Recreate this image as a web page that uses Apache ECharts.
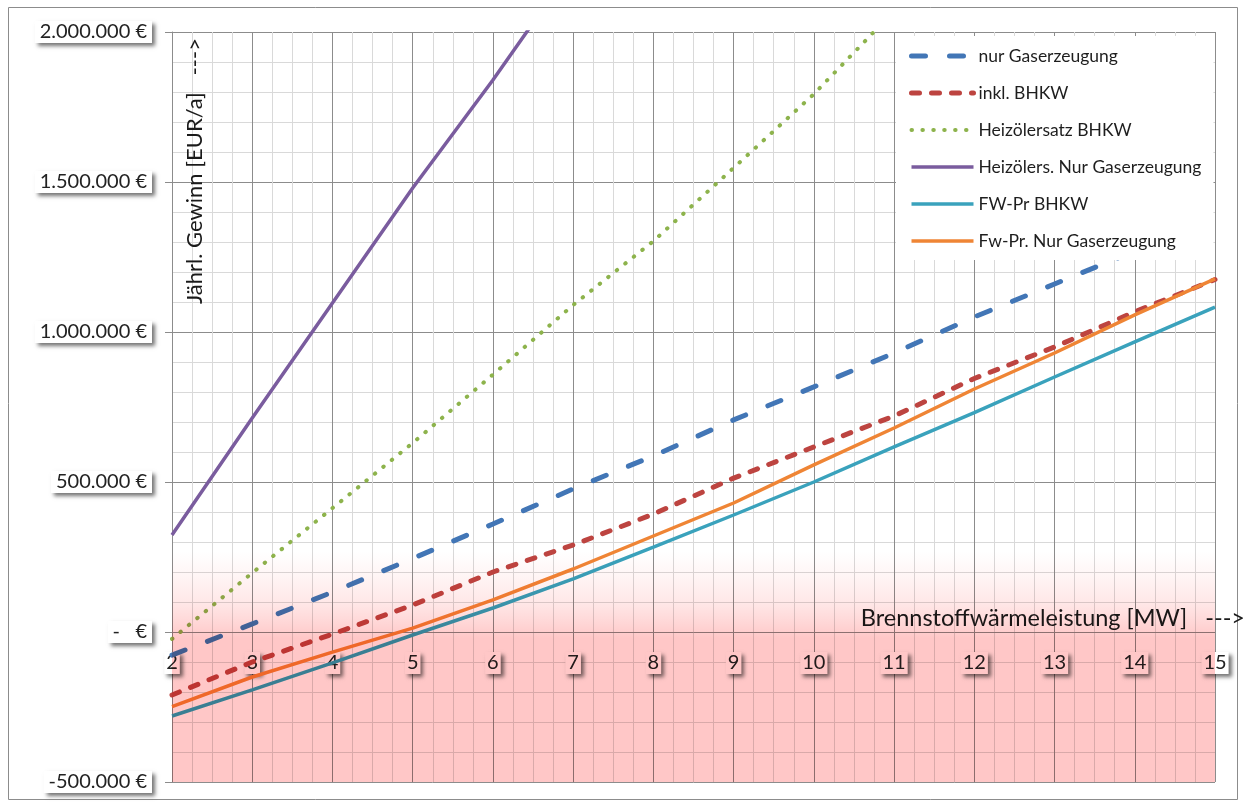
<!DOCTYPE html>
<html>
<head>
<meta charset="utf-8">
<script src="https://cdn.jsdelivr.net/npm/echarts@6/dist/echarts.min.js"></script>
<style>
  html, body { margin: 0; padding: 0; background: #ffffff; }
  #chart { width: 1248px; height: 804px; }
</style>
</head>
<body>
<div id="chart"></div>
<script>
// Brennstoffwärmeleistung [MW]
const leistungMW = [2, 3, 4, 5, 6, 7, 8, 9, 10, 11, 12, 13, 14, 15];

// Jährlicher Gewinn [EUR/a] je Variante
const nurGaserzeugung      = [-77000, 27000, 133000, 245000, 360000, 477000, 587000, 707000, 817000, 930000, 1050000, 1160000, 1270000, 1380000];
const inklBHKW             = [-210000, -100000, -7000, 90000, 200000, 290000, 393000, 513000, 617000, 720000, 845000, 950000, 1067000, 1175000];
const heizoelersatzBHKW    = [-23000, 197000, 413000, 630000, 858000, 1090000, 1303000, 1547000, 1793000, 2070000];
const heizoelersNurGas     = [323000, 713000, 1097000, 1480000, 1840000, 2220000];
const fwPrBHKW             = [-280000, -193000, -103000, -10000, 80000, 177000, 283000, 390000, 500000, 617000, 731000, 850000, 967000, 1083000];
const fwPrNurGas           = [-249000, -150000, -67000, 13000, 107000, 210000, 320000, 430000, 557000, 680000, 810000, 930000, 1057000, 1177000];

const seriesNames = [
  'nur Gaserzeugung',
  'inkl. BHKW',
  'Heizölersatz BHKW',
  'Heizölers. Nur Gaserzeugung',
  'FW-Pr BHKW',
  'Fw-Pr. Nur Gaserzeugung'
];

// Verlustbereich (rot hinterlegt): x-Spanne und Gewinn-Spanne
const verlustMW  = [2, 15];
const verlustEUR = [-500000, 300000];

// Wertebereich der Achsen
const xRange = [2, 15];
const yRange = [-500000, 2000000];

const FONT = 'Lato, "Open Sans", sans-serif';

function pairs(values) {
  return values.map((v, i) => [leistungMW[i], v]);
}

function euro(v) {
  if (v === 0) return '-   €';
  const s = Math.abs(v).toString().replace(/\B(?=(\d{3})+(?!\d))/g, '.');
  return (v < 0 ? '-' : '') + s + ' €';
}

const labelBox = {
  backgroundColor: '#ffffff',
  shadowColor: 'rgba(0,0,0,0.55)',
  shadowBlur: 4,
  shadowOffsetX: 3,
  shadowOffsetY: 3
};

function lineSeries(name, values, color, width, type, cap) {
  return {
    type: 'line',
    name: name,
    data: pairs(values),
    symbol: 'none',
    z: 2,
    clip: true,
    lineStyle: { color: color, width: width, type: type, cap: cap || 'butt' },
    itemStyle: { color: color }
  };
}

const GRID = { left: 172, right: 33, top: 32, bottom: 22 };
const plotHeight = 804 - GRID.top - GRID.bottom;
// the x axis sits on the zero line of the profit axis
const zeroOffset = -plotHeight * (0 - yRange[0]) / (yRange[1] - yRange[0]);

const chart = echarts.init(document.getElementById('chart'), null, { renderer: 'canvas' });

chart.setOption({
  animation: false,
  backgroundColor: '#ffffff',
  textStyle: { fontFamily: FONT },
  grid: Object.assign({ containLabel: false, outerBoundsMode: 'none' }, GRID),
  legend: {
    data: seriesNames,
    orient: 'vertical',
    left: 896,
    top: 36,
    width: 320,
    backgroundColor: '#ffffff',
    padding: [11, 12, 10, 13],
    itemWidth: 62,
    itemHeight: 16,
    itemGap: 19,
    align: 'left',
    lineStyle: { width: 'inherit' },
    itemStyle: { opacity: 0 },
    textStyle: { fontFamily: FONT, fontSize: 17.5, color: '#1e1e1e' }
  },
  xAxis: {
    type: 'value',
    min: xRange[0],
    max: xRange[1],
    interval: 1,
    position: 'bottom',
    offset: zeroOffset,
    name: 'Brennstoffwärmeleistung [MW]   --->',
    nameLocation: 'end',
    nameGap: 30,
    nameTextStyle: {
      fontFamily: FONT, fontSize: 23.5, color: '#1a1a1a',
      align: 'right', verticalAlign: 'bottom', padding: [0, 0, 2, 0]
    },
    axisLine: { onZero: false, lineStyle: { color: '#8c8c8c', width: 1 } },
    axisTick: { show: true, length: 5, lineStyle: { color: '#8c8c8c' } },
    minorTick: { show: false, splitNumber: 4 },
    axisLabel: Object.assign({
      fontFamily: FONT, fontSize: 20, color: '#222222', margin: 20,
      padding: [1, 2, 1, 2], showMinLabel: true, showMaxLabel: true
    }, labelBox),
    splitLine: { show: true, lineStyle: { color: '#8c8c8c', width: 1 } },
    minorSplitLine: { show: true, lineStyle: { color: '#d9d9d9', width: 1 } }
  },
  yAxis: {
    type: 'value',
    min: yRange[0],
    max: yRange[1],
    interval: 500000,
    axisLine: { show: true, onZero: false, lineStyle: { color: '#8c8c8c', width: 1 } },
    axisTick: { show: true, length: 7, lineStyle: { color: '#8c8c8c' } },
    minorTick: { show: false, splitNumber: 5 },
    axisLabel: Object.assign({
      fontFamily: FONT, fontSize: 20, color: '#222222', margin: 20,
      padding: [1, 5, 1, 5], formatter: euro, showMinLabel: true, showMaxLabel: true
    }, labelBox),
    splitLine: { show: true, lineStyle: { color: '#8c8c8c', width: 1 } },
    minorSplitLine: { show: true, lineStyle: { color: '#d9d9d9', width: 1 } }
  },
  graphic: [
    {
      type: 'rect', silent: true, z: -10,
      shape: { x: 8.5, y: 7.5, width: 1229, height: 792 },
      style: { fill: 'none', stroke: '#8c8c8c', lineWidth: 1 }
    },
    {
      type: 'text', silent: true, z: 5,
      x: 195, y: 304, rotation: Math.PI / 2,
      style: {
        text: 'Jährl. Gewinn [EUR/a]   --->',
        font: '22px ' + FONT, fill: '#1a1a1a',
        align: 'left', verticalAlign: 'middle'
      }
    }
  ],
  series: [
    lineSeries(seriesNames[0], nurGaserzeugung,   '#4276b6', 5,   [14, 24], 'round'),
    lineSeries(seriesNames[1], inklBHKW,          '#bd4440', 5,   [8, 12],  'round'),
    lineSeries(seriesNames[2], heizoelersatzBHKW, '#8db34c', 4,   [0.5, 10.4], 'round'),
    lineSeries(seriesNames[3], heizoelersNurGas,  '#7a5c9e', 3.5, 'solid'),
    lineSeries(seriesNames[4], fwPrBHKW,          '#3aa2bc', 3.5, 'solid'),
    lineSeries(seriesNames[5], fwPrNurGas,        '#ef8535', 3.5, 'solid'),
    {
      type: 'custom',
      name: 'Verlustbereich',
      silent: true,
      z: 3,
      blendMode: 'multiply',
      data: [[verlustMW[0], verlustMW[1], verlustEUR[0], verlustEUR[1]]],
      encode: { x: [0, 1], y: [2, 3] },
      renderItem: function (params, api) {
        const tl = api.coord([api.value(0), api.value(3)]);
        const br = api.coord([api.value(1), api.value(2)]);
        return {
          type: 'rect',
          shape: { x: tl[0], y: tl[1], width: br[0] - tl[0], height: br[1] - tl[1] },
          style: {
            fill: new echarts.graphic.LinearGradient(0, 0, 0, 1, [
              { offset: 0.00, color: '#ffffff' },
              { offset: 0.04, color: '#ffffff' },
              { offset: 0.14, color: '#fff5f5' },
              { offset: 0.25, color: '#ffe8e8' },
              { offset: 0.32, color: '#ffdada' },
              { offset: 0.37, color: '#ffcfcf' },
              { offset: 0.40, color: '#ffc7c7' },
              { offset: 1.00, color: '#ffc7c7' }
            ])
          }
        };
      }
    }
  ]
});
</script>
</body>
</html>
